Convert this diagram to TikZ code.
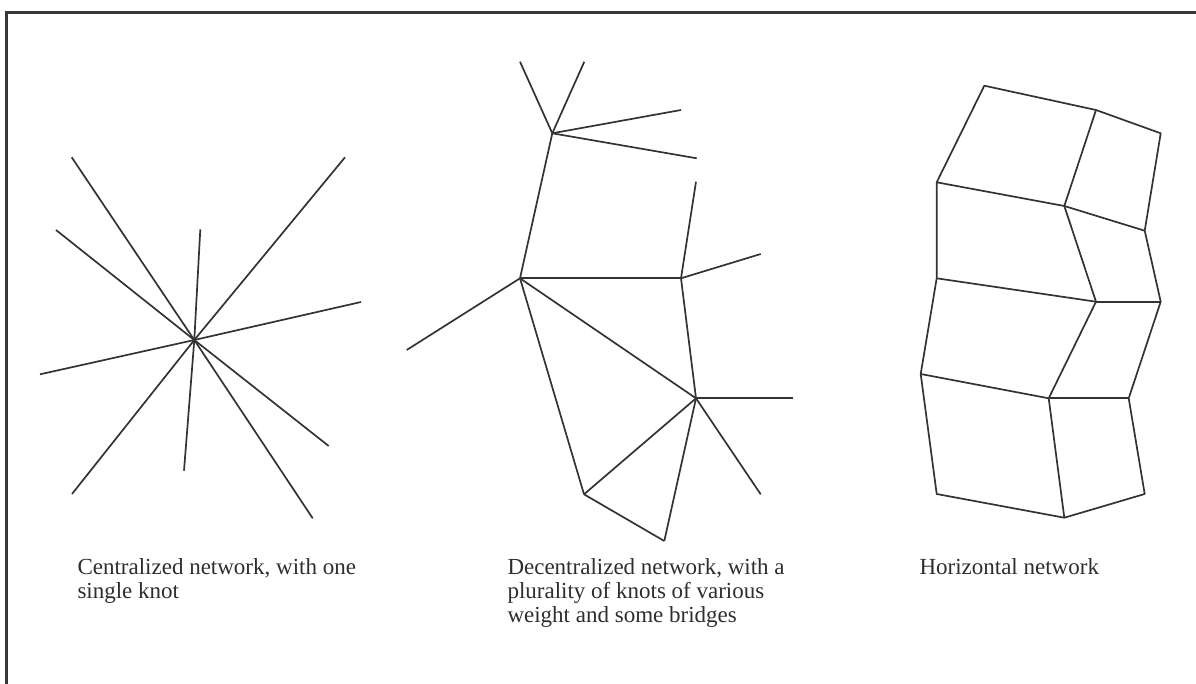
\documentclass[tikz,border=0pt]{standalone}
\usepackage{fontspec}
\setmainfont{Liberation Serif}
\begin{document}
\begin{tikzpicture}[x=1pt,y=-1pt,
  edge/.style={line width=1.7pt, draw=black!80},
  frame/.style={line width=2.4pt, draw=black!78},
  caption/.style={anchor=north west, inner sep=0pt, align=left, text=black!82,
    font=\fontsize{23}{24}\selectfont}]
\useasboundingbox (0,0) rectangle (1196,684);
% frame (open at right and bottom)
\draw[frame] (6.5,690) -- (6.5,12.7) -- (1200,12.7);

% ---------- centralized network ----------
\coordinate (c) at (194.3,340);
\foreach \n/\x/\y in {e1/71.7/157.3, e2/345/157.3, e3/56/230, e4/200.3/229.3, e5/361/302,
                      e6/40/374.3, e7/72/494, e8/184/470.7, e9/328.7/446, e10/312.7/518.3}
  \coordinate (\n) at (\x,\y);
\foreach \n in {e1,e2,e3,e4,e5,e6,e7,e8,e9,e10}
  \draw[edge] (c) -- (\n);

% ---------- decentralized network ----------
\coordinate (h1) at (552.3,133.3);
\coordinate (h2) at (520,278.3);
\coordinate (h3) at (681,278.3);
\coordinate (h4) at (696,398.3);
\coordinate (n5) at (584,494.3);
\coordinate (n6) at (664.3,541);
\coordinate (d1) at (520,61.7);
\coordinate (d2) at (584.3,61.7);
\coordinate (d3) at (681,110);
\coordinate (d4) at (696.7,158.3);
\coordinate (d5) at (696,181.7);
\coordinate (d6) at (760.7,254);
\coordinate (d7) at (406.7,350);
\coordinate (d8) at (792.7,398.3);
\coordinate (d9) at (760.7,494.3);
\foreach \a/\b in {h1/d1,h1/d2,h1/d3,h1/d4,h1/h2,h2/h3,h3/d5,h3/d6,h3/h4,h2/d7,h2/h4,
                   h2/n5,n5/h4,n5/n6,n6/h4,h4/d8,h4/d9}
  \draw[edge] (\a) -- (\b);

% ---------- horizontal network ----------
\foreach \n/\x/\y in {p1/984.3/85.7, p2/1096/110, p3/1160.7/133.3,
                      p4/936.7/182.3, p5/1064.3/206, p6/1144.7/230.7,
                      p7/936.7/278.3, p8/1096/301.7, p9/1160.7/301.7,
                      p10/920.7/374, p11/1048.7/398.3, p12/1128.7/398.3,
                      p13/936.7/494, p14/1064.3/517.7, p15/1144.7/494}
  \coordinate (\n) at (\x,\y);
\draw[edge,line join=round] (p1) -- (p2) -- (p3) -- (p6) -- (p9) -- (p12) -- (p15) -- (p14) -- (p13) -- (p10) -- (p7) -- (p4) -- cycle;
\foreach \a/\b in {p2/p5,p4/p5,p5/p6,p5/p8,p7/p8,p8/p9,p8/p11,p10/p11,p11/p12,p11/p14}
  \draw[edge] (\a) -- (\b);

% ---------- captions ----------
\node[caption] (t1) at (77.3,558.6) {Centralized network, with one\\single knot};
\node[caption] (t2) at (507.3,558.6) {Decentralized network, with a\\plurality of knots of various\\weight and some bridges};
\node[caption] (t3) at (919.3,558.6) {Horizontal network};
\end{tikzpicture}
\end{document}
